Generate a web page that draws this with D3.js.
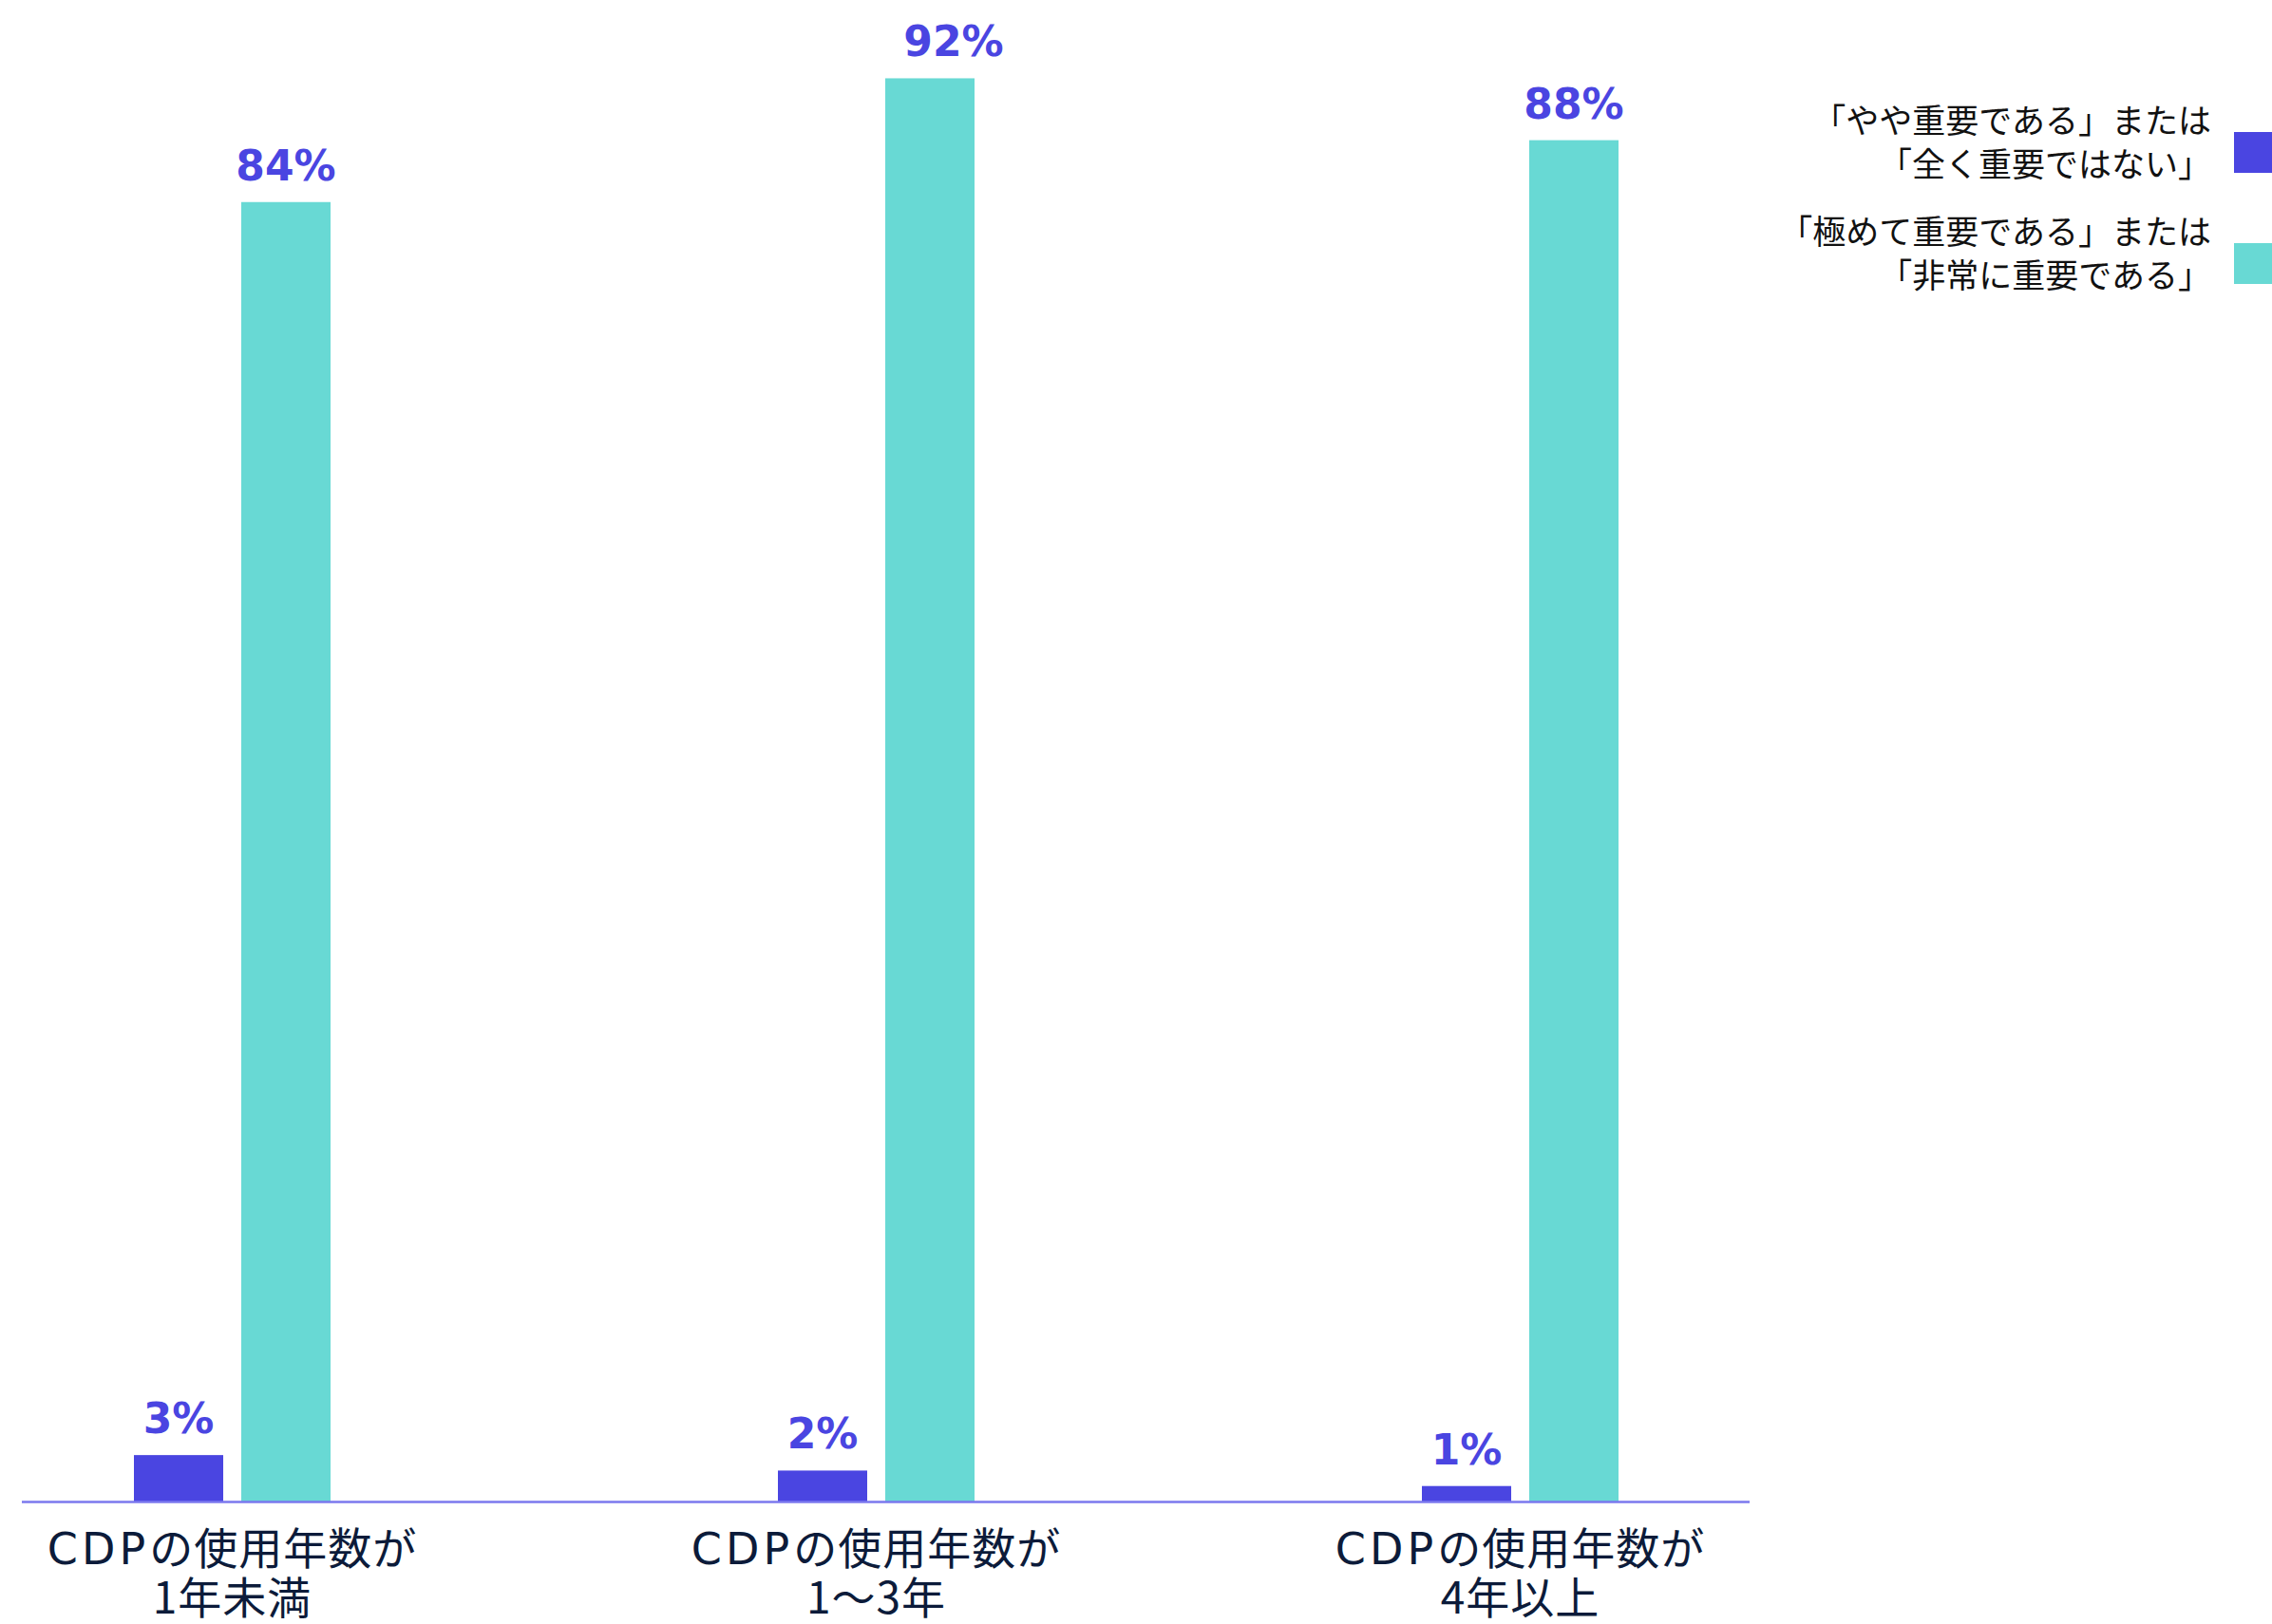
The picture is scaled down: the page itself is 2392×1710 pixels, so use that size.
<!DOCTYPE html>
<html>
<head>
<meta charset="utf-8">
<script src="https://cdn.jsdelivr.net/npm/d3@7"></script>
<style>
  body { margin: 0; background: #fff; }
  svg { display: block; }
</style>
</head>
<body>
<div id="wrapper"></div>
<script>

// groups on the x axis, label split into a latin prefix and the rest
const categories = ["lt1", "y1to3", "y4plus"]
const categoryLines = [
  ["CDP", "の使用年数が", "1年未満"],
  ["CDP", "の使用年数が", "1〜3年"],
  ["CDP", "の使用年数が", "4年以上"],
]

// series: low importance vs high importance (percent)
const seriesKeys = ["low", "high"]
const lowValues = [3, 2, 1]
const highValues = [84, 92, 88]

const legendLines = [
  ["「やや重要である」または", "「全く重要ではない」"],
  ["「極めて重要である」または", "「非常に重要である」"],
]
const colors = ["#4A45E1", "#68D9D4"]

// the 92% label sits a little to the right of its bar
const labelNudge = { "y1to3-high": 25 }

function drawChart() {

  const dataset = categories.map((c, i) => ({
    category: c,
    low: lowValues[i],
    high: highValues[i],
  }))

  // dimensions and framing
  let dimensions = {
    width: 2392,
    height: 1710,
    margin: {
      top: 1,
      right: 550,
      bottom: 129,
      left: 23,
    },
  }
  dimensions.boundedWidth = dimensions.width
    - dimensions.margin.left
    - dimensions.margin.right
  dimensions.boundedHeight = dimensions.height
    - dimensions.margin.top
    - dimensions.margin.bottom

  const wrapper = d3.select("#wrapper")
    .append("svg")
      .attr("width", dimensions.width)
      .attr("height", dimensions.height)

  const bounds = wrapper.append("g")
      .attr("transform", `translate(${dimensions.margin.left},${dimensions.margin.top})`)

  // scales
  const xScale = d3.scalePoint()
    .domain(categories)
    .range([221.5, 1577.5])

  const innerScale = d3.scaleBand()
    .domain(seriesKeys)
    .range([-103.5, 103.5])
    .paddingInner(0.168)

  const yScale = d3.scaleLinear()
    .domain([0, 97])
    .range([dimensions.boundedHeight, 0])

  const colorScale = d3.scaleOrdinal()
    .domain(seriesKeys)
    .range(colors)

  // bars
  const groups = bounds.selectAll(".group")
      .data(dataset)
    .join("g")
      .attr("class", "group")
      .attr("transform", d => `translate(${xScale(d.category)},0)`)

  const cells = groups.selectAll(".cell")
      .data(d => seriesKeys.map(k => ({ category: d.category, key: k, value: d[k] })))
    .join("g")
      .attr("class", "cell")

  cells.append("rect")
      .attr("x", d => innerScale(d.key))
      .attr("y", d => yScale(d.value))
      .attr("width", innerScale.bandwidth())
      .attr("height", d => dimensions.boundedHeight - yScale(d.value))
      .attr("fill", d => colorScale(d.key))

  cells.append("text")
      .attr("x", d => innerScale(d.key) + innerScale.bandwidth() / 2
        + (labelNudge[`${d.category}-${d.key}`] || 0))
      .attr("y", d => yScale(d.value) - 23)
      .attr("text-anchor", "middle")
      .attr("fill", "#4A45E1")
      .style("font-family", "'DejaVu Sans', sans-serif")
      .style("font-weight", "bold")
      .style("font-size", "44px")
      .text(d => `${d.value}%`)

  // baseline
  bounds.append("line")
      .attr("x1", 0)
      .attr("x2", dimensions.boundedWidth)
      .attr("y1", dimensions.boundedHeight + 0.5)
      .attr("y2", dimensions.boundedHeight + 0.5)
      .attr("stroke", "#7B78EE")
      .attr("stroke-width", 2.5)

  // category labels, two lines each
  const xLabels = bounds.selectAll(".x-label")
      .data(categories)
    .join("g")
      .attr("class", "x-label")
      .attr("transform", d => `translate(${xScale(d)},${dimensions.boundedHeight})`)
      .attr("fill", "#0C1B3A")
      .style("font-size", "46px")

  const firstLine = xLabels.append("text")
      .attr("text-anchor", "middle")
      .attr("y", 66)
      .style("font-family", "'Noto Sans CJK JP', sans-serif")
      .style("letter-spacing", "1px")

  firstLine.append("tspan")
      .style("font-family", "'DejaVu Sans', sans-serif")
      .style("letter-spacing", "4px")
      .text((d, i) => categoryLines[i][0])

  firstLine.append("tspan")
      .text((d, i) => categoryLines[i][1])

  xLabels.append("text")
      .attr("text-anchor", "middle")
      .attr("y", 118)
      .style("font-family", "'Noto Sans CJK JP', sans-serif")
      .style("letter-spacing", "1px")
      .text((d, i) => categoryLines[i][2])

  // legend
  const legend = wrapper.append("g")
      .attr("transform", "translate(2352,0)")

  const legendItems = legend.selectAll(".legend-item")
      .data(seriesKeys)
    .join("g")
      .attr("class", "legend-item")
      .attr("transform", (d, i) => `translate(0,${139 + i * 117})`)

  legendItems.append("rect")
      .attr("width", 60)
      .attr("height", 43)
      .attr("fill", d => colorScale(d))

  legendItems.append("text")
      .attr("text-anchor", "end")
      .attr("fill", "#111")
      .style("font-family", "'Noto Sans CJK JP', sans-serif")
      .style("font-size", "35px")
    .selectAll("tspan")
      .data((d, i) => legendLines[i])
    .join("tspan")
      .attr("x", -24)
      .attr("y", (d, i) => 1 + i * 46)
      .text(d => d)
}

drawChart()
</script>
</body>
</html>
